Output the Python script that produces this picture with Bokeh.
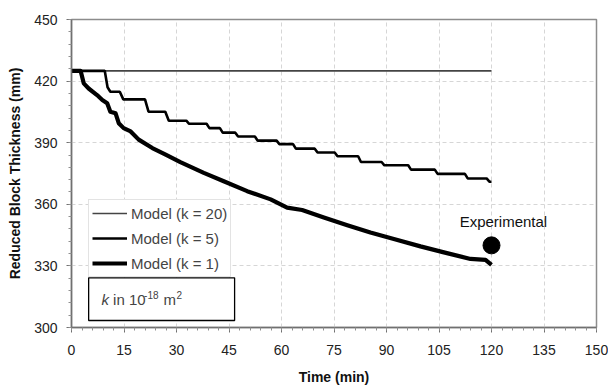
from bokeh.plotting import figure
from bokeh.models import Legend, LegendItem, Label, BoxAnnotation, FixedTicker, Range1d
from bokeh.embed import file_html
from bokeh.resources import INLINE

# ---------------- data ----------------
x_ticks = [0, 15, 30, 45, 60, 75, 90, 105, 120, 135, 150]
y_ticks = [300, 330, 360, 390, 420, 450]

k20_t = [0, 120]
k20_v = [425, 425]

k5_t = [0, 9.5, 10.3, 11.1, 13.8, 14.8, 21.0, 22.0, 26.8, 27.8, 32.8, 33.6, 38.6, 39.4,
        42.4, 43.2, 46.8, 47.6, 52.4, 53.2, 58.6, 59.4, 63.3, 64.1, 69.5, 70.3, 75.2, 76.0,
        81.9, 82.7, 88.6, 89.4, 96.2, 97.0, 103.8, 104.6, 112.4, 113.2, 118.6, 119.4, 120]
k5_v = [425, 425, 417, 414.8, 414.8, 411.1, 411.1, 405.1, 405.1, 400.7, 400.7, 399.2, 399.2,
        397.1, 397.1, 394.9, 394.9, 393.0, 393.0, 391.0, 391.0, 389.3, 389.3, 387.1, 387.1,
        385.2, 385.2, 383.4, 383.4, 380.6, 380.6, 379.0, 379.0, 376.9, 376.9, 374.8, 374.8,
        372.6, 372.6, 371.0, 371.0]

k1_t = [0, 2.6, 3.5, 4.9, 7.3, 8.8, 10.2, 11.1, 12.6, 13.5, 14.9, 16.9, 19.2, 23.1, 26.9,
        31.1, 37.8, 43.5, 50.2, 56.9, 61.6, 65.9, 72.1, 78.8, 85.4, 92.1, 99.7, 106.4, 114.0,
        118.3, 120]
k1_v = [425, 425, 418.9, 416.4, 413.2, 410.8, 409.2, 405.1, 404.3, 399.5, 397.1, 395.5, 391.5,
        387.4, 384.2, 380.5, 375.3, 371.2, 366.4, 362.4, 358.4, 357.2, 353.6, 349.8, 346.3,
        343.1, 339.5, 336.6, 333.4, 332.9, 330.5]

exp_t = [120]
exp_v = [340]

labels = ["Model (k = 20)", "Model (k = 5)", "Model (k = 1)"]

FONT = "Liberation Sans"

p = figure(width=608, height=387, output_backend="svg", toolbar_location=None,
           x_range=Range1d(0, 150), y_range=Range1d(300, 450),
           min_border_left=71, min_border_right=12, min_border_top=19, min_border_bottom=58)
p.background_fill_color = "white"
p.border_fill_color = "white"
p.outline_line_color = "#8c8c8c"
p.outline_line_width = 1.5

p.xaxis.ticker = FixedTicker(ticks=x_ticks, minor_ticks=list(range(0, 151, 3)))
p.yaxis.ticker = FixedTicker(ticks=y_ticks, minor_ticks=list(range(300, 451, 6)))

for ax in (p.xaxis[0], p.yaxis[0]):
    ax.axis_line_color = "#707070"
    ax.axis_line_width = 1.5
    ax.major_tick_line_color = "#707070"
    ax.minor_tick_line_color = "#909090"
    ax.major_tick_in = 0
    ax.major_tick_out = 5
    ax.minor_tick_in = 0
    ax.minor_tick_out = 3
    ax.major_label_text_font = FONT
    ax.major_label_text_font_size = "14px"
    ax.major_label_text_color = "#222222"
    ax.axis_label_text_font = FONT
    ax.axis_label_text_font_size = "14px"
    ax.axis_label_text_font_style = "bold"
    ax.axis_label_text_color = "#111111"

p.xaxis.axis_label = "Time (min)"
p.yaxis.axis_label = "Reduced Block Thickness (mm)"
p.xaxis.major_label_standoff = 12
p.xaxis.axis_label_standoff = 11
p.yaxis.major_label_standoff = 9
p.yaxis.axis_label_standoff = 8

for g in (p.xgrid[0], p.ygrid[0]):
    g.grid_line_color = "#d6d6d6"
    g.grid_line_dash = "4 3"
    g.grid_line_width = 1

r20 = p.line(k20_t, k20_v, line_color="#444444", line_width=1.6)
r5 = p.line(k5_t, k5_v, line_color="black", line_width=2.6)
r1 = p.line(k1_t, k1_v, line_color="black", line_width=4.2, line_join="round")
p.scatter(exp_t, exp_v, size=17, color="black")

p.add_layout(Label(x=123.4, y=351.8, text="Experimental", text_align="center",
                   text_baseline="middle", text_font=FONT, text_font_size="15px",
                   text_color="#111111"))

legend = Legend(items=[LegendItem(label=labels[0], renderers=[r20]),
                       LegendItem(label=labels[1], renderers=[r5]),
                       LegendItem(label=labels[2], renderers=[r1])],
                location=(17, 50), padding=3, spacing=5, margin=0,
                glyph_width=35, glyph_height=20, label_standoff=4,
                label_text_font=FONT, label_text_font_size="15px",
                border_line_color="#c8c8c8", border_line_width=1,
                background_fill_color="white", background_fill_alpha=1)
p.add_layout(legend, "center")

p.add_layout(BoxAnnotation(left=4.9, right=46.6, bottom=303.4, top=324.2,
                           fill_color="white", fill_alpha=1,
                           line_color="black", line_alpha=1, line_width=1.3))

ky = 313.4
p.add_layout(Label(x=8.6, y=ky, text="k", text_font=FONT, text_font_size="15px",
                   text_font_style="italic", text_baseline="middle"))
p.add_layout(Label(x=8.6, y=ky, x_offset=11.5, text="in 10", text_font=FONT,
                   text_font_size="15px", text_baseline="middle"))
p.add_layout(Label(x=8.6, y=ky + 2.6, x_offset=42.5, text="-18", text_font=FONT,
                   text_font_size="10px", text_baseline="middle"))
p.add_layout(Label(x=8.6, y=ky, x_offset=62, text="m", text_font=FONT,
                   text_font_size="15px", text_baseline="middle"))
p.add_layout(Label(x=8.6, y=ky + 2.6, x_offset=75, text="2", text_font=FONT,
                   text_font_size="10px", text_baseline="middle"))

open("out.html", "w").write(file_html(p, INLINE))
